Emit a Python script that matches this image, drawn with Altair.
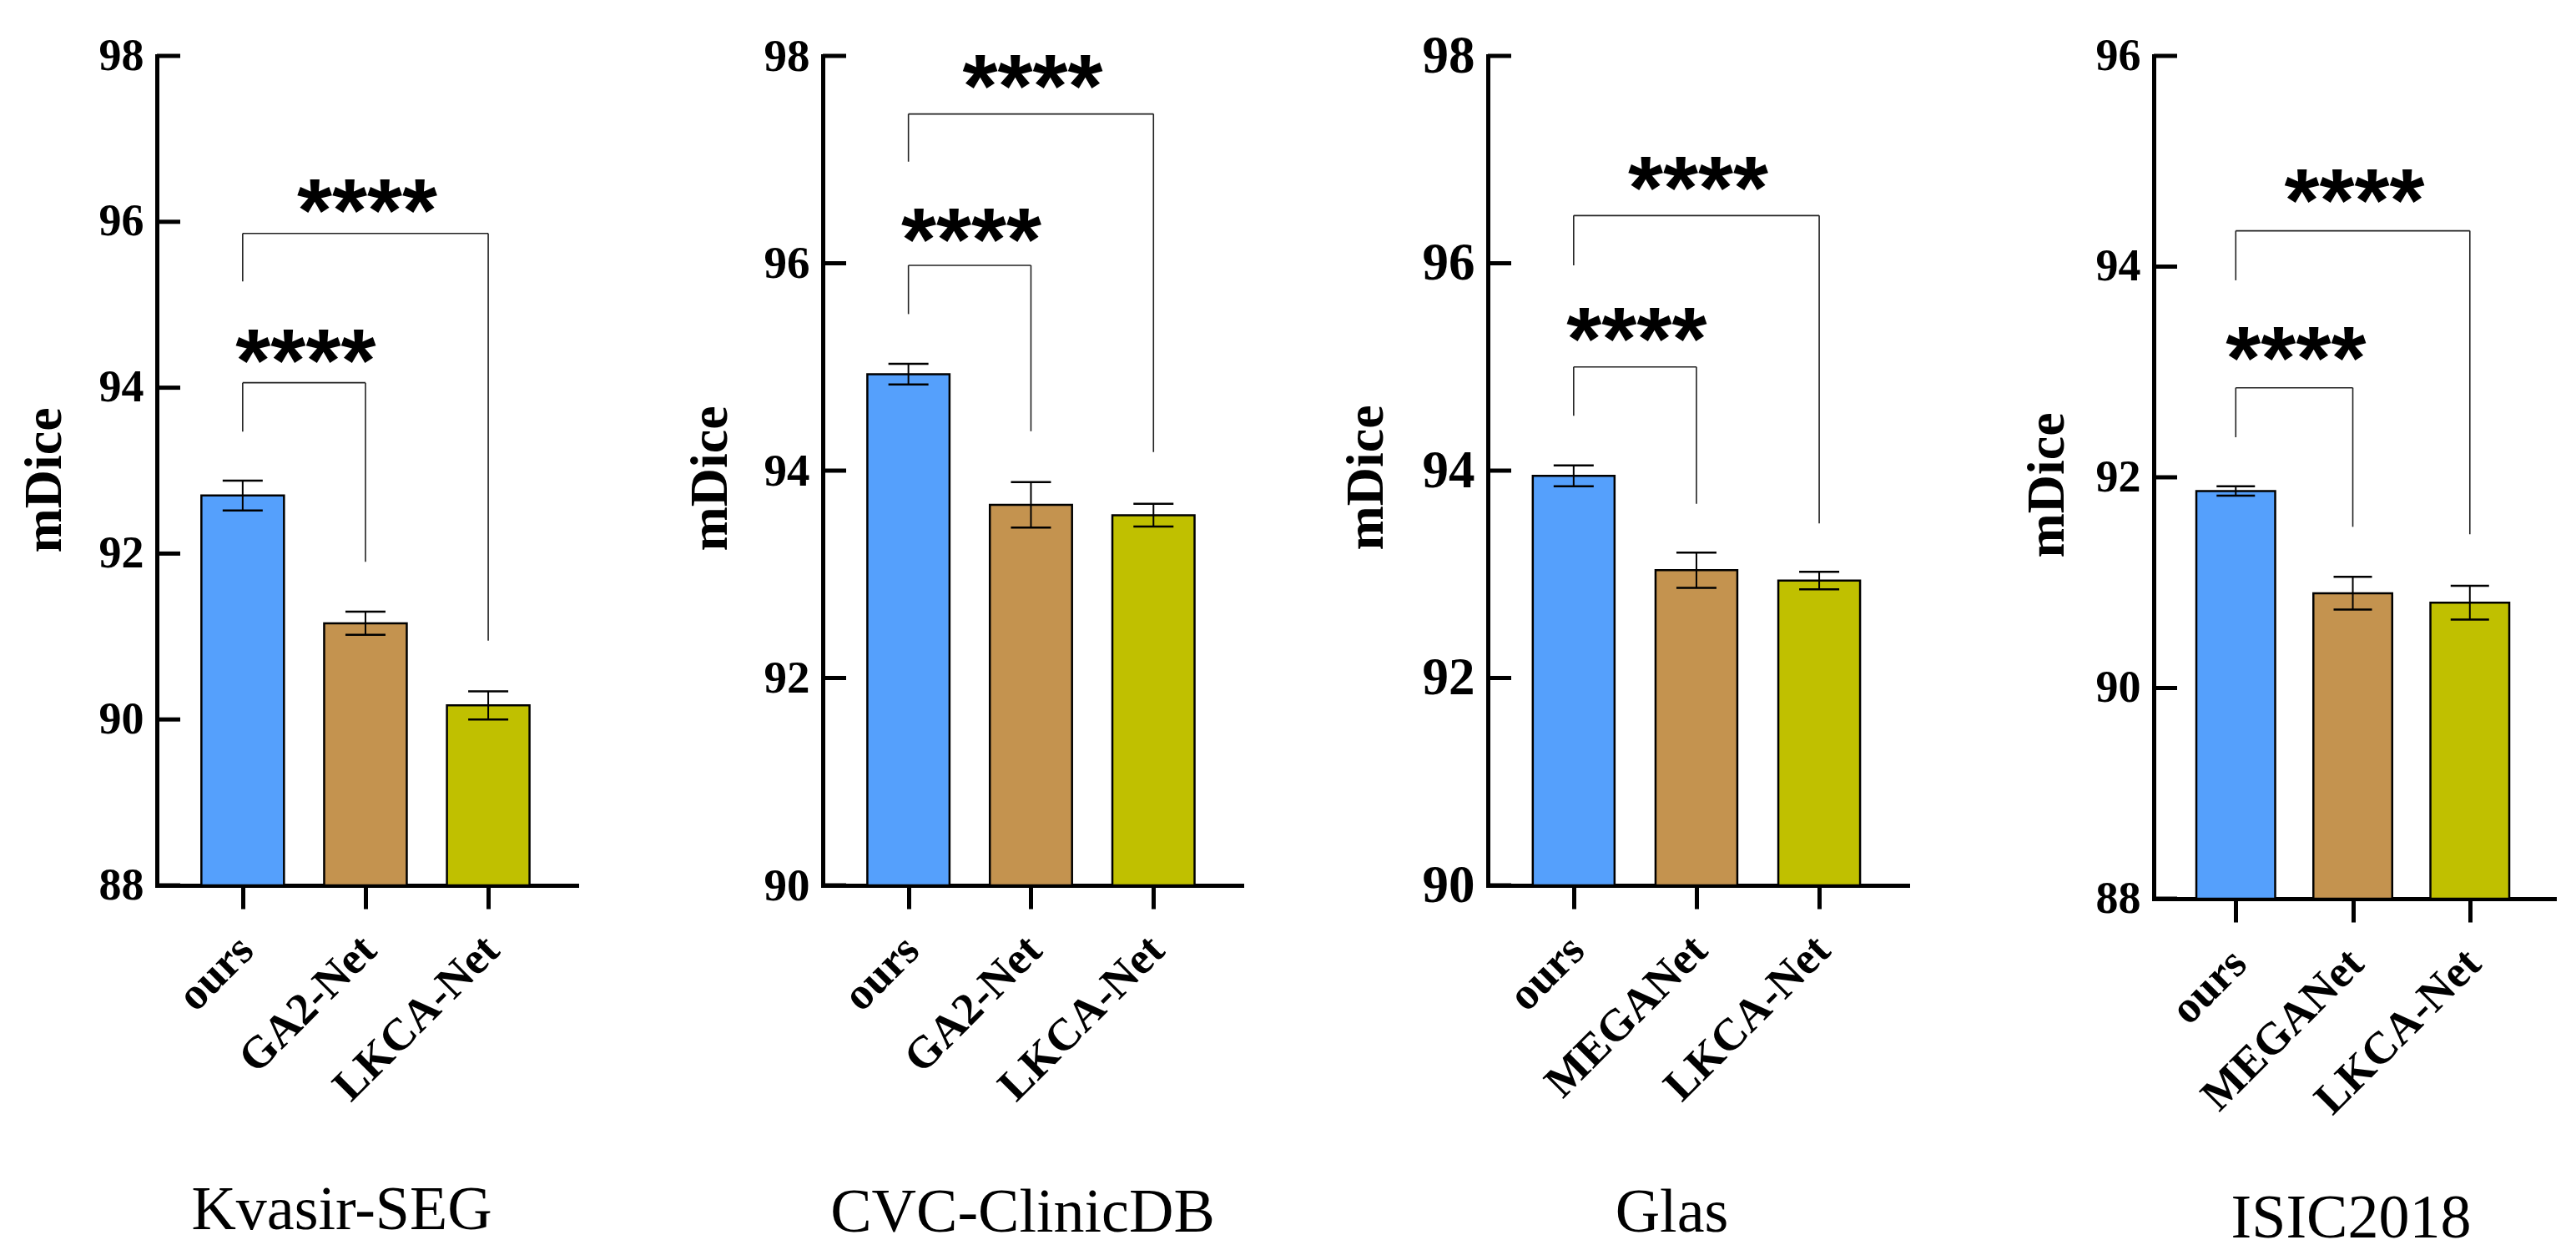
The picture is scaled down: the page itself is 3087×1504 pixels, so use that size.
import altair as alt
import pandas as pd

# ---------------- data ----------------
datasets = ["Kvasir-SEG", "CVC-ClinicDB", "Glas", "ISIC2018"]
models_kvasir = ["ours", "GA2-Net", "LKCA-Net"]
models_cvc = ["ours", "GA2-Net", "LKCA-Net"]
models_glas = ["ours", "MEGANet", "LKCA-Net"]
models_isic = ["ours", "MEGANet", "LKCA-Net"]
models = [models_kvasir, models_cvc, models_glas, models_isic]

mean_kvasir = [92.70, 91.16, 90.17]
mean_cvc = [94.93, 93.67, 93.57]
mean_glas = [93.95, 93.04, 92.94]
mean_isic = [91.87, 90.90, 90.81]
means = [mean_kvasir, mean_cvc, mean_glas, mean_isic]

err_kvasir = [0.18, 0.14, 0.17]
err_cvc = [0.10, 0.22, 0.11]
err_glas = [0.10, 0.17, 0.085]
err_isic = [0.045, 0.155, 0.16]
errs = [err_kvasir, err_cvc, err_glas, err_isic]

y_domains = [[88, 98], [90, 98], [90, 98], [88, 96]]
y_ticks = [[88, 90, 92, 94, 96, 98], [90, 92, 94, 96, 98],
           [90, 92, 94, 96, 98], [88, 90, 92, 94, 96]]

# significance brackets: (left bar, right bar, bracket top, left leg end, right leg end, star level)
brackets = [
    [(0, 1, 94.06, 93.47, 91.90, 94.58), (0, 2, 95.86, 95.28, 90.95, 96.39)],
    [(0, 1, 95.98, 95.51, 94.38, 96.43), (0, 2, 97.44, 96.98, 94.18, 97.91)],
    [(0, 1, 95.00, 94.53, 93.68, 95.47), (0, 2, 96.46, 95.98, 93.49, 96.93)],
    [(0, 1, 92.85, 92.38, 91.53, 93.33), (0, 2, 94.34, 93.87, 91.46, 94.83)],
]
star_text = "****"
bar_colors = ["#55A0FC", "#C4934F", "#C0C000"]

# ---------------- styles ----------------
widths = [503, 502, 503, 480]
heights = [994, 994, 994, 1010]
bar_w = [99, 98.5, 98, 94.5]
cap_w = [48, 48, 48, 46]
ylab_size = [54, 55, 63, 54]
xtitle_x = [221, 239, 220, 236]
xtitle_y = [411, 414, 414, 405]
ytitle_x = [-116, -116, -127, -109]
ytitle_y = [508, 506, 505, 514]
SERIF = "Liberation Serif"


def panel(i):
    n = len(models[i])
    df = pd.DataFrame({
        "idx": list(range(n)),
        "model": models[i],
        "mean": means[i],
        "lo": [m - e for m, e in zip(means[i], errs[i])],
        "hi": [m + e for m, e in zip(means[i], errs[i])],
    })
    seg_rows = []
    star_rows = []
    for (a, b, top, le, re, sy) in brackets[i]:
        seg_rows.append({"x": a, "x2": b, "y": top, "y2": top})
        seg_rows.append({"x": a, "x2": a, "y": top, "y2": le})
        seg_rows.append({"x": b, "x2": b, "y": top, "y2": re})
        star_rows.append({"x": (a + b) / 2, "y": sy, "t": star_text})
    seg = pd.DataFrame(seg_rows)
    st = pd.DataFrame(star_rows)
    tk = pd.DataFrame({"v": y_ticks[i]})

    ysc = alt.Scale(domain=y_domains[i], nice=False, zero=False)
    xsc = alt.Scale(domain=[-0.665, 2.686], nice=False, zero=False)
    names_js = "[" + ",".join("'%s'" % m for m in models[i]) + "]"

    xaxis = alt.Axis(
        values=list(range(n)), labelExpr=names_js + "[datum.value]",
        labelAngle=-45, labelAlign="right", labelBaseline="middle",
        labelFontSize=54, labelPadding=41, labelOffset=4,
        labelOverlap=False, labelFlush=False, labelLimit=0,
        ticks=True, tickSize=28, tickWidth=5, tickColor="black",
        domain=True, labels=True,
        title=datasets[i], titleFontSize=74, titleFontWeight="normal",
        titleX=xtitle_x[i], titleY=xtitle_y[i], titleAlign="center",
        titleBaseline="alphabetic", titleAngle=0,
    )
    yaxis = alt.Axis(
        values=y_ticks[i], format="d", ticks=False, tickSize=0,
        domain=True, labels=True,
        labelFontSize=ylab_size[i], labelPadding=16, labelOverlap=False,
        labelFlush=False, labelLimit=0,
        title="mDice", titleFontSize=64, titleFontWeight="bold",
        titleX=ytitle_x[i], titleY=ytitle_y[i], titleAngle=270,
        titleAlign="center", titleBaseline="alphabetic",
    )

    def X(f):
        return alt.X(f, scale=xsc, axis=xaxis)

    def Y(f):
        return alt.Y(f, scale=ysc, axis=yaxis)

    bars = alt.Chart(df).mark_bar(width=bar_w[i], stroke="black", strokeWidth=2.5).encode(
        x=X("idx:Q"),
        y=Y("mean:Q"),
        y2=alt.datum(y_domains[i][0]),
        color=alt.Color("model:N", scale=alt.Scale(domain=models[i], range=bar_colors),
                        legend=None),
    )
    yt = alt.Chart(tk).mark_rule(color="black", strokeWidth=5).encode(
        y=Y("v:Q"),
        x=alt.value(0), x2=alt.value(28),
    )
    eb = alt.Chart(df).mark_rule(color="black", strokeWidth=2).encode(
        x=X("idx:Q"),
        y=Y("lo:Q"),
        y2="hi:Q",
    )
    cap_hi = alt.Chart(df).mark_tick(orient="horizontal", size=cap_w[i], thickness=2.5,
                                     color="black", opacity=1).encode(
        x=X("idx:Q"),
        y=Y("hi:Q"),
    )
    cap_lo = alt.Chart(df).mark_tick(orient="horizontal", size=cap_w[i], thickness=2.5,
                                     color="black", opacity=1).encode(
        x=X("idx:Q"),
        y=Y("lo:Q"),
    )
    br = alt.Chart(seg).mark_rule(color="#222222", strokeWidth=1.6).encode(
        x=X("x:Q"), x2="x2:Q",
        y=Y("y:Q"), y2="y2:Q",
    )
    stars = alt.Chart(st).mark_text(font="Liberation Sans", fontWeight="bold", fontSize=108,
                                    baseline="alphabetic", align="center", dy=62, dx=2,
                                    color="black").encode(
        x=X("x:Q"),
        y=Y("y:Q"),
        text="t:N",
    )
    return alt.layer(bars, yt, eb, cap_hi, cap_lo, br, stars).properties(
        width=widths[i], height=heights[i])


chart = alt.hconcat(*[panel(i) for i in range(4)], spacing=295, bounds="flush").resolve_scale(
    x="independent", y="independent", color="independent"
).properties(
    padding={"left": 13, "top": 28, "right": 5, "bottom": 5},
    background="white",
).configure_view(stroke=None).configure_axis(
    domainColor="black", domainWidth=5, domainCap="square", grid=False,
    labelColor="black", titleColor="black",
    labelFont=SERIF, labelFontWeight="bold", titleFont=SERIF,
)

chart.save("out.html", embed_options={"renderer": "svg", "actions": False})
